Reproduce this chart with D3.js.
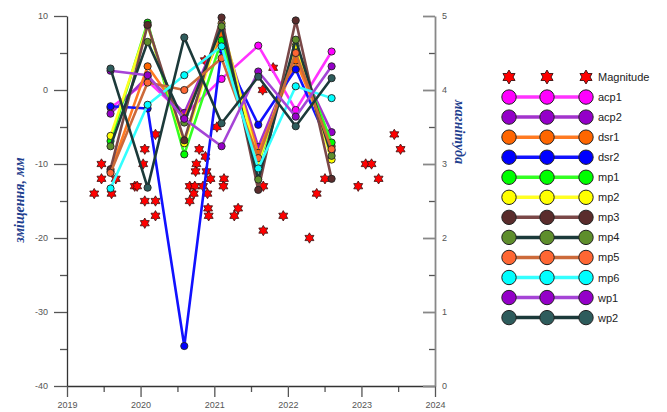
<!DOCTYPE html>
<html>
<head>
<meta charset="utf-8">
<script src="https://cdn.jsdelivr.net/npm/d3@7"></script>
<style>
  html, body { margin: 0; padding: 0; background: #fff; }
  svg { display: block; }
</style>
</head>
<body>
<div id="chart"></div>
<script>
// survey dates for the displacement series
const surveyDates = ["2019-08-05", "2020-02-05", "2020-08-05", "2021-02-06", "2021-08-07", "2022-02-09", "2022-08-06"];

const seriesNames = ["acp1", "acp2", "dsr1", "dsr2", "mp1", "mp2", "mp3", "mp4", "mp5", "mp6", "wp1", "wp2"];

// displacement, mm
const acp1 = [-2.4, 1.2, -3.4, 1.5, 6.0, -2.7, 5.2];
const acp2 = [-3.2, 1.8, -3.1, 8.2, -7.7, 4.5, -5.7];
const dsr1 = [-11.0, 3.2, -3.8, 7.5, -8.5, 4.0, -7.6];
const dsr2 = [-2.2, -2.5, -34.6, 5.5, -4.7, 2.8, -8.2];
const mp1 = [-6.9, 9.1, -8.7, 6.7, -10.0, 5.4, -7.1];
const mp2 = [-6.2, 8.7, -7.2, 9.0, -9.8, 6.0, -9.4];
const mp3 = [-10.7, 8.8, -6.8, 9.8, -13.5, 9.4, -12.0];
const mp4 = [-7.6, 6.5, -4.4, 8.6, -12.1, 6.8, -8.9];
const mp5 = [-11.2, 1.0, 0.0, 4.3, -9.2, 5.0, -8.0];
const mp6 = [-13.3, -2.0, 2.0, 5.9, -10.6, 0.5, -1.1];
const wp1 = [2.6, 2.0, -3.9, -7.6, 2.5, -3.6, 3.2];
const wp2 = [2.9, -13.2, 7.1, -4.5, 1.8, -4.9, 1.6];

// earthquakes
const quakeDates = [
  "2019-05-16", "2019-06-21", "2019-06-21", "2019-08-10", "2019-08-31", "2019-12-03", "2019-12-15",
  "2020-01-14", "2020-01-22", "2020-03-15", "2020-01-22", "2020-03-15", "2020-01-22", "2020-03-15",
  "2020-09-01", "2020-09-26", "2020-11-06", "2020-09-21", "2020-11-28", "2020-09-01", "2020-12-01",
  "2020-12-04", "2020-10-04", "2020-09-30", "2020-11-23", "2020-12-13", "2021-02-18", "2021-02-15",
  "2021-04-29", "2021-04-10", "2021-09-01", "2021-09-01", "2021-12-09", "2022-04-18", "2021-01-14",
  "2020-11-18", "2020-10-18", "2021-10-20", "2021-08-29", "2022-05-24", "2022-07-04", "2022-12-16",
  "2023-01-22", "2023-02-20", "2023-03-27", "2023-06-13", "2023-07-14", "2020-11-15"
];
const quakeMags = [
  2.6, 3.0, 2.8, 2.6, 2.8, 2.7, 2.7,
  3.0, 3.2, 3.4, 2.5, 2.5, 2.2, 2.3,
  2.7, 2.7, 2.7, 2.6, 2.6, 2.5, 2.4,
  2.3, 3.0, 2.9, 2.9, 2.8, 2.8, 2.7,
  2.4, 2.3, 2.7, 2.1, 2.3, 2.0, 3.5,
  3.1, 3.2, 4.3, 4.0, 2.6, 2.8, 2.7,
  3.0, 3.0, 2.8, 3.4, 3.2, 4.4
];

const xTickYears = [2019, 2020, 2021, 2022, 2023, 2024];
const leftTicks = [10, 0, -10, -20, -30, -40];
const rightTicks = [0, 1, 2, 3, 4, 5];

const seriesValues = [acp1, acp2, dsr1, dsr2, mp1, mp2, mp3, mp4, mp5, mp6, wp1, wp2];
const markerColors = ["#ff00ff", "#9400c8", "#ff6600", "#0000ff", "#00ff00", "#ffff00", "#5a2c2c", "#5e8e2c", "#ff6633", "#00ffff", "#9400c8", "#2e5c5c"];
const lineColors = ["#ff33ff", "#a333cc", "#ff7a22", "#1111ff", "#33ff22", "#ffff22", "#7a4848", "#1c3a3a", "#cc6a3a", "#33ffff", "#a544d6", "#1c3a3a"];

const W = 667, H = 412;
const parse = d3.timeParse("%Y-%m-%d");
const plain = d => String(d);

const svg = d3.select("#chart").append("svg")
  .attr("width", W)
  .attr("height", H);

const x = d3.scaleTime()
  .domain([new Date(2019, 0, 1), new Date(2024, 0, 1)])
  .range([67, 435]);
const yL = d3.scaleLinear().domain([-40, 10]).range([386, 16]);
const yR = d3.scaleLinear().domain([0, 5]).range([386, 16]);

// ---- axes
const axisFont = "Liberation Sans, Arial, sans-serif";

// minor ticks first
svg.append("g")
  .attr("transform", "translate(67,0)")
  .call(d3.axisLeft(yL).tickValues([5, -5, -15, -25, -35]).tickSize(7).tickFormat(""))
  .call(g => g.select(".domain").remove());
svg.append("g")
  .attr("transform", "translate(0,386)")
  .call(d3.axisBottom(x).tickValues(xTickYears.slice(0, 5).map(y => new Date(y, 6, 2))).tickSize(6).tickFormat(""))
  .call(g => g.select(".domain").remove());
svg.append("g")
  .attr("transform", "translate(435,0)")
  .call(d3.axisRight(yR).tickValues([0.5, 1.5, 2.5, 3.5, 4.5]).tickSizeInner(-6).tickSizeOuter(0).tickFormat(""))
  .call(g => g.select(".domain").remove());

const leftAxis = svg.append("g")
  .attr("transform", "translate(67,0)")
  .call(d3.axisLeft(yL).tickValues(leftTicks).tickFormat(plain).tickSize(13).tickSizeOuter(0).tickPadding(6));

const bottomAxis = svg.append("g")
  .attr("transform", "translate(0,386)")
  .call(d3.axisBottom(x).tickValues(xTickYears.map(y => new Date(y, 0, 1)))
    .tickFormat(d3.timeFormat("%Y")).tickSize(11).tickSizeOuter(0).tickPadding(5));

const rightAxis = svg.append("g")
  .attr("transform", "translate(435,0)")
  .call(d3.axisRight(yR).tickValues(rightTicks).tickFormat(plain).tickSizeInner(-12).tickSizeOuter(0).tickPadding(7));

svg.selectAll(".tick line").attr("stroke", "#555").attr("stroke-width", 1.3);
leftAxis.select(".domain").attr("stroke", "#333").attr("stroke-width", 1.3);
bottomAxis.select(".domain").attr("stroke", "#333").attr("stroke-width", 1.3);
rightAxis.select(".domain").attr("stroke", "#888").attr("stroke-width", 1.8);
rightAxis.selectAll(".tick line").attr("stroke", "#888").attr("stroke-width", 1.8);
svg.selectAll(".tick text")
  .attr("font-family", axisFont)
  .attr("font-size", 9)
  .attr("fill", "#555");

// axis titles
svg.append("text")
  .attr("transform", "translate(24,200) rotate(-90)")
  .attr("text-anchor", "middle")
  .attr("font-family", "Liberation Serif, Times New Roman, serif")
  .attr("font-style", "italic")
  .attr("font-weight", "bold")
  .attr("font-size", 14)
  .attr("fill", "#1f3f8f")
  .text("зміщення, мм");

svg.append("text")
  .attr("transform", "translate(455,132) rotate(90)")
  .attr("text-anchor", "middle")
  .attr("font-family", "Liberation Serif, Times New Roman, serif")
  .attr("font-style", "italic")
  .attr("font-weight", "bold")
  .attr("font-size", 14)
  .attr("fill", "#1f3f8f")
  .text("магнітуда");

// ---- six-pointed star
function hexagram(r) {
  const ri = r * 0.58;
  const pts = [];
  for (let i = 0; i < 12; i++) {
    const a = -Math.PI / 2 + i * Math.PI / 6;
    const rr = i % 2 === 0 ? r : ri;
    pts.push([rr * Math.cos(a), rr * Math.sin(a)]);
  }
  return "M" + pts.map(p => p[0].toFixed(2) + "," + p[1].toFixed(2)).join("L") + "Z";
}

// ---- earthquakes (drawn under the lines)
const quakes = quakeDates.map((d, i) => ({ date: parse(d), mag: quakeMags[i] }));
svg.append("g").selectAll("path")
  .data(quakes)
  .enter()
  .append("path")
  .attr("d", hexagram(5.2))
  .attr("transform", d => `translate(${x(d.date)},${yR(d.mag)})`)
  .attr("fill", "#ff0000")
  .attr("stroke", "#3a1010")
  .attr("stroke-width", 0.8);

// ---- displacement series
const dates = surveyDates.map(parse);
const line = d3.line().x(d => x(d.date)).y(d => yL(d.v));

seriesNames.forEach((name, i) => {
  const pts = seriesValues[i].map((v, j) => ({ date: dates[j], v }));
  const g = svg.append("g").attr("class", "series-" + name);
  g.append("path")
    .datum(pts)
    .attr("d", line)
    .attr("fill", "none")
    .attr("stroke", lineColors[i])
    .attr("stroke-width", 2.6)
    .attr("stroke-linejoin", "round");
  g.selectAll("circle")
    .data(pts)
    .enter()
    .append("circle")
    .attr("cx", d => x(d.date))
    .attr("cy", d => yL(d.v))
    .attr("r", 3.6)
    .attr("fill", markerColors[i])
    .attr("stroke", "#222")
    .attr("stroke-width", 0.9);
});

// ---- legend
const legendX = [509, 547, 586];
const legendTop = 77;
const rowGap = 20.05;
const legend = svg.append("g");

const magRow = legend.append("g").attr("transform", `translate(0,${legendTop})`);
legendX.forEach(lx => {
  magRow.append("path")
    .attr("d", hexagram(7))
    .attr("transform", `translate(${lx},0)`)
    .attr("fill", "#ff0000")
    .attr("stroke", "#3a1010")
    .attr("stroke-width", 0.9);
});
magRow.append("text")
  .attr("x", 598).attr("y", 4)
  .attr("font-family", axisFont).attr("font-size", 11).attr("fill", "#222")
  .text("Magnitude");

seriesNames.forEach((name, i) => {
  const row = legend.append("g").attr("transform", `translate(0,${legendTop + (i + 1) * rowGap})`);
  row.append("line")
    .attr("x1", legendX[0]).attr("x2", legendX[2])
    .attr("stroke", lineColors[i]).attr("stroke-width", 3.5);
  legendX.forEach(lx => {
    row.append("circle")
      .attr("cx", lx).attr("r", 7.2)
      .attr("fill", markerColors[i])
      .attr("stroke", "#222").attr("stroke-width", 1);
  });
  row.append("text")
    .attr("x", 598).attr("y", 4)
    .attr("font-family", axisFont).attr("font-size", 11).attr("fill", "#222")
    .text(name);
});
</script>
</body>
</html>
